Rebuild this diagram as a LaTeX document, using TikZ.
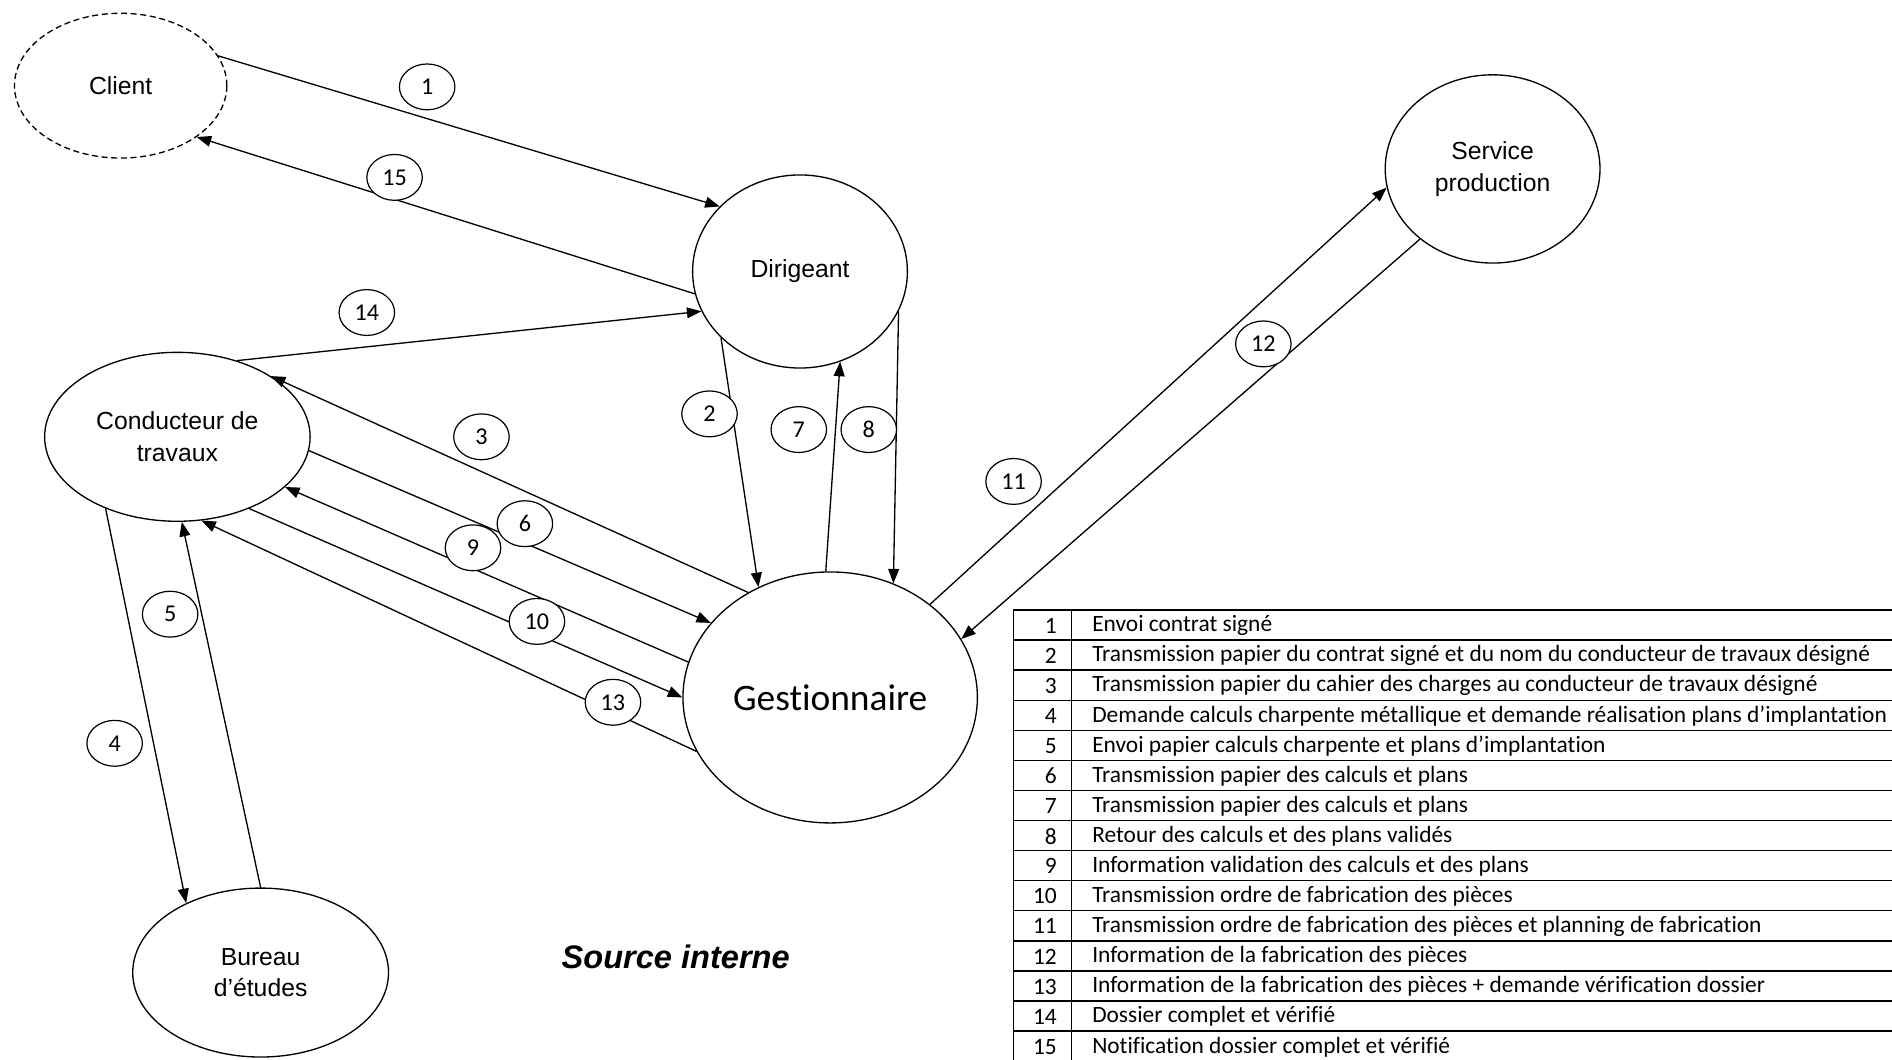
\documentclass[tikz,border=0pt]{standalone}
\usepackage{fontspec}
\setmainfont{Liberation Sans}
\newfontfamily\calibri[Ligatures=NoCommon]{Carlito}
\usetikzlibrary{shapes.geometric,arrows.meta}
\begin{document}
\begin{tikzpicture}[x=1pt,y=-1pt,
  ent/.style={ellipse,draw,line width=1.1pt,inner sep=0pt,align=center,
    font=\fontsize{20.5}{26}\selectfont},
  lab/.style={ellipse,draw,fill=white,line width=1pt,minimum width=46pt,
    minimum height=38pt,inner sep=0pt,font=\calibri\fontsize{20}{22}\selectfont},
  flow/.style={line width=1.1pt,-{Triangle[length=12pt,width=9pt]}},
  numcell/.style={anchor=east,inner sep=0pt,font=\calibri\fontsize{19.4}{21}\selectfont},
  txtcell/.style={anchor=west,inner sep=0pt,font=\calibri\fontsize{19.4}{21}\selectfont}]
\useasboundingbox (0,0) rectangle (1568,878);
\clip (0,0) rectangle (1568,878);
\fill[white] (0,0) rectangle (1568,878);

% entities
\node[ent,dash pattern=on 5pt off 3pt,minimum width=176pt,minimum height=120pt] (client) at (100,71) {Client};
\node[ent,minimum width=178pt,minimum height=160pt] (dir) at (663,225) {Dirigeant};
\node[ent,minimum width=178pt,minimum height=156pt] (serv) at (1237,140) {Service\\production};
\node[ent,minimum width=220pt,minimum height=140pt] (cond) at (147,362) {Conducteur de\\travaux};
\node[ent,minimum width=244pt,minimum height=208pt,font=\calibri\fontsize{31}{36}\selectfont] (gest) at (688,578) {Gestionnaire};
\node[ent,minimum width=212pt,minimum height=140pt] (bur) at (216,806) {Bureau\\d’études};

% flows
\draw[flow] (client.17) -- (dir.141);
\draw[flow] (dir.192) -- (client.-34);
\draw[flow] (cond.52) -- (dir.202);
\draw[flow] (dir.-140) -- (gest.123);
\draw[flow] (gest.92) -- (dir.-66);
\draw[flow] (dir.-22) -- (gest.61);
\draw[flow] (gest.128) -- (cond.33);
\draw[flow] (cond.-6) -- (gest.148);
\draw[flow] (gest.166) -- (cond.-25);
\draw[flow] (cond.-45) -- (gest.180);
\draw[flow] (gest.202) -- (cond.-74);
\draw[flow] (cond.-135) -- (bur.137);
\draw[flow] (bur.90) -- (cond.-87);
\draw[flow] (gest.43) -- (serv.190);
\draw[flow] (serv.224) -- (gest.24);

% flow labels
\node[lab] (l1) at (354,72) {1};
\node[lab] (l15) at (327,147) {15};
\node[lab] (l14) at (304,259) {14};
\node[lab] (l2) at (588,343) {2};
\node[lab] (l7) at (662,356) {7};
\node[lab] (l8) at (720,356) {8};
\node[lab] (l3) at (399,362) {3};
\node[lab] (l6) at (435,434) {6};
\node[lab] (l9) at (392,454) {9};
\node[lab] (l10) at (445,515) {10};
\node[lab] (l13) at (508,582) {13};
\node[lab] (l4) at (95,616) {4};
\node[lab] (l5) at (141,509) {5};
\node[lab] (l11) at (840,399) {11};
\node[lab] (l12) at (1047,285) {12};

\node[font=\bfseries\itshape\fontsize{27}{30}\selectfont] (src) at (560,793) {Source interne};

% legend table
\draw[line width=1.3pt] (840,505.5) rectangle (1600,880);
\draw[line width=1.1pt] (888,505.5) -- (888,880);
\foreach \k in {1,...,14} \draw[line width=1.1pt] (840,505.5+24.93*\k) -- (1600,505.5+24.93*\k);
\node[numcell] (n1) at (876,518.5) {1};
\node[txtcell] (t1) at (905,518.5) {Envoi contrat signé};
\node[numcell] (n2) at (876,543.43) {2};
\node[txtcell] (t2) at (905,543.43) {Transmission papier du contrat signé et du nom du conducteur de travaux désigné};
\node[numcell] (n3) at (876,568.36) {3};
\node[txtcell] (t3) at (905,568.36) {Transmission papier du cahier des charges au conducteur de travaux désigné};
\node[numcell] (n4) at (876,593.29) {4};
\node[txtcell] (t4) at (905,593.29) {Demande calculs charpente métallique et demande réalisation plans d’implantation};
\node[numcell] (n5) at (876,618.22) {5};
\node[txtcell] (t5) at (905,618.22) {Envoi papier calculs charpente et plans d’implantation};
\node[numcell] (n6) at (876,643.15) {6};
\node[txtcell] (t6) at (905,643.15) {Transmission papier des calculs et plans};
\node[numcell] (n7) at (876,668.08) {7};
\node[txtcell] (t7) at (905,668.08) {Transmission papier des calculs et plans};
\node[numcell] (n8) at (876,693.01) {8};
\node[txtcell] (t8) at (905,693.01) {Retour des calculs et des plans validés};
\node[numcell] (n9) at (876,717.94) {9};
\node[txtcell] (t9) at (905,717.94) {Information validation des calculs et des plans};
\node[numcell] (n10) at (876,742.87) {10};
\node[txtcell] (t10) at (905,742.87) {Transmission ordre de fabrication des pièces};
\node[numcell] (n11) at (876,767.8) {11};
\node[txtcell] (t11) at (905,767.8) {Transmission ordre de fabrication des pièces et planning de fabrication};
\node[numcell] (n12) at (876,792.73) {12};
\node[txtcell] (t12) at (905,792.73) {Information de la fabrication des pièces};
\node[numcell] (n13) at (876,817.66) {13};
\node[txtcell] (t13) at (905,817.66) {Information de la fabrication des pièces + demande vérification dossier};
\node[numcell] (n14) at (876,842.59) {14};
\node[txtcell] (t14) at (905,842.59) {Dossier complet et vérifié};
\node[numcell] (n15) at (876,867.52) {15};
\node[txtcell] (t15) at (905,867.52) {Notification dossier complet et vérifié};
\end{tikzpicture}
\end{document}
